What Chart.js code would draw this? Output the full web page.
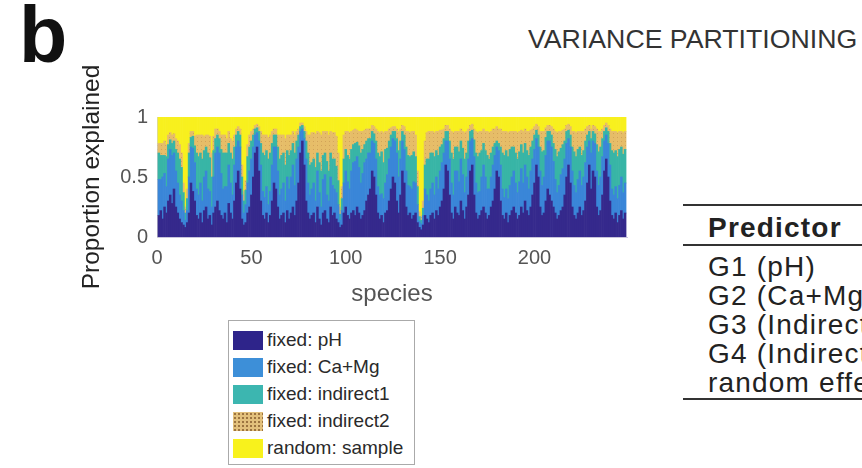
<!DOCTYPE html>
<html><head><meta charset="utf-8">
<script src="https://cdn.jsdelivr.net/npm/chart.js@4.4.1/dist/chart.umd.min.js"></script>
<style>
body{margin:0;width:862px;height:468px;overflow:hidden;background:#fff;font-family:"Liberation Sans",Arial,sans-serif;position:relative}
.abs{position:absolute;white-space:nowrap}
#panel{left:19px;top:-5px;font-size:79px;font-weight:bold;line-height:79px;color:#111}
#title{left:528px;top:26px;font-size:26.7px;line-height:26px;color:#333}
#wrap{position:absolute;left:0;top:0;width:660px;height:330px}
#legend{position:absolute;left:228px;top:320px;width:187px;height:145px;border:1px solid #aaa;box-sizing:border-box;background:#fff}
.item{position:absolute;left:4px;height:20px;display:flex;align-items:center;font-size:19px;color:#2a2a2a;white-space:nowrap}
.sw{width:30px;height:19px;margin-right:4px;flex:none}
.rule{position:absolute;left:683px;width:200px;height:2px;background:#333}
.cell{position:absolute;left:708px;font-size:28px;line-height:28px;letter-spacing:1.2px;color:#222;white-space:nowrap}
</style>
</head><body>
<div id="panel" class="abs">b</div>
<div id="title" class="abs">VARIANCE PARTITIONING</div>
<div id="wrap"><canvas id="c"></canvas></div>
<div id="legend"></div>
<div class="rule" style="top:204px"></div>
<div class="cell" style="top:214px;font-weight:bold">Predictor</div>
<div class="rule" style="top:244px"></div>
<div class="cell" style="top:253px">G1 (pH)</div>
<div class="cell" style="top:282px">G2 (Ca+Mg)</div>
<div class="cell" style="top:311px">G3 (Indirect 1)</div>
<div class="cell" style="top:340px">G4 (Indirect 2)</div>
<div class="cell" style="top:369px">random effects</div>
<div class="rule" style="top:398px"></div>
<script>
const seriesLabels = ['fixed: pH','fixed: Ca+Mg','fixed: indirect1','fixed: indirect2','random: sample'];
const xTicks = [0,50,100,150,200];
const yTicks = [0,0.5,1];

const pH = [
.18,.22,.15,.25,.20,.30,.35,.28,.40,.25, .20,.15,.12,.10,.08,.12,.20,.45,.38,.30,
.18,.15,.20,.12,.22,.25,.15,.18,.10,.20, .25,.30,.22,.18,.15,.20,.12,.28,.20,.15,
.30,.45,.55,.40,.15,.10,.12,.20,.25,.35, .50,.70,.75,.55,.30,.18,.15,.20,.12,.18,
.30,.45,.40,.25,.15,.18,.20,.12,.22,.15, .20,.25,.18,.30,.45,.70,.80,.60,.30,.20,
.15,.18,.20,.12,.25,.15,.10,.20,.22,.15, .12,.25,.18,.20,.15,.12,.08,.10,.20,.25,
.18,.15,.20,.22,.18,.25,.20,.15,.18,.22, .30,.35,.40,.55,.50,.35,.20,.15,.18,.12,
.20,.22,.30,.40,.50,.45,.30,.20,.35,.55, .45,.25,.18,.20,.15,.18,.20,.12,.08,.06,
.10,.18,.15,.12,.18,.20,.15,.22,.18,.25, .30,.40,.60,.55,.35,.20,.15,.25,.20,.18,
.30,.22,.15,.25,.35,.55,.60,.35,.20,.15, .18,.22,.25,.20,.15,.18,.25,.30,.40,.55,
.50,.30,.18,.15,.20,.12,.18,.22,.25,.20, .15,.18,.25,.20,.30,.22,.18,.25,.35,.45,
.60,.50,.25,.18,.20,.30,.40,.35,.30,.25, .20,.15,.18,.22,.25,.35,.50,.60,.45,.25,
.18,.15,.20,.25,.18,.22,.30,.45,.60,.40, .55,.50,.25,.18,.22,.35,.55,.65,.50,.30,
.18,.15,.20,.12,.18,.22,.15,.20];
const caMg = [
.30,.26,.35,.28,.22,.35,.38,.40,.30,.30, .25,.20,.18,.12,.06,.10,.30,.30,.36,.32,
.22,.20,.25,.18,.28,.30,.25,.20,.15,.30, .45,.45,.48,.35,.25,.22,.30,.32,.25,.20,
.30,.30,.25,.35,.20,.10,.15,.25,.30,.30, .25,.15,.12,.25,.30,.20,.18,.22,.15,.20,
.30,.30,.35,.30,.20,.22,.25,.18,.28,.25, .30,.35,.25,.35,.30,.18,.10,.22,.35,.25,
.20,.22,.25,.18,.30,.22,.15,.28,.30,.20, .18,.25,.25,.20,.22,.15,.06,.12,.25,.30,
.28,.25,.35,.40,.45,.42,.38,.30,.35,.40, .35,.35,.30,.25,.28,.30,.22,.20,.18,.20,
.25,.30,.35,.35,.32,.35,.40,.30,.30,.25, .28,.30,.25,.22,.25,.28,.25,.15,.05,.05,
.08,.22,.20,.18,.22,.25,.20,.28,.22,.30, .32,.30,.20,.25,.30,.25,.20,.30,.35,.28,
.35,.30,.22,.25,.30,.25,.22,.32,.25,.22, .20,.28,.35,.30,.25,.22,.25,.30,.28,.20,
.22,.30,.22,.18,.20,.20,.25,.28,.30,.25, .22,.28,.32,.25,.30,.28,.22,.30,.30,.28,
.22,.25,.30,.25,.30,.38,.40,.45,.45,.38, .28,.22,.25,.30,.32,.30,.28,.22,.30,.30,
.25,.22,.28,.30,.25,.28,.32,.30,.20,.30, .25,.28,.30,.25,.28,.32,.25,.20,.28,.30,
.22,.20,.22,.20,.25,.28,.22,.25];
const indirect1 = [
.22,.20,.18,.15,.25,.12,.08,.10,.10,.18, .25,.30,.28,.15,.06,.10,.20,.08,.10,.14,
.30,.32,.25,.35,.22,.20,.30,.28,.25,.22, .12,.10,.12,.20,.30,.28,.28,.18,.25,.30,
.15,.10,.08,.10,.15,.10,.12,.22,.20,.15, .10,.05,.04,.08,.18,.32,.35,.30,.38,.32,
.18,.10,.10,.20,.30,.28,.25,.30,.22,.28, .22,.18,.27,.15,.10,.04,.03,.06,.15,.25,
.25,.22,.20,.28,.15,.25,.30,.20,.18,.28, .25,.20,.22,.25,.22,.20,.05,.10,.20,.18,
.22,.25,.18,.15,.15,.12,.18,.25,.20,.15, .15,.12,.12,.08,.08,.15,.28,.32,.35,.30,
.28,.22,.15,.10,.06,.08,.12,.22,.15,.08, .12,.20,.25,.25,.28,.25,.22,.15,.04,.03,
.06,.20,.30,.35,.30,.25,.32,.22,.28,.20, .15,.12,.08,.08,.15,.25,.30,.20,.20,.25,
.15,.22,.28,.20,.15,.08,.07,.14,.25,.30, .32,.22,.18,.22,.28,.25,.20,.15,.10,.05,
.06,.15,.30,.35,.32,.35,.30,.25,.20,.25, .28,.25,.20,.25,.18,.22,.28,.20,.15,.12,
.07,.10,.20,.28,.22,.15,.08,.08,.10,.15, .25,.30,.28,.22,.20,.15,.10,.07,.10,.20,
.28,.30,.25,.20,.25,.22,.18,.10,.08,.12, .08,.08,.22,.28,.25,.15,.08,.06,.10,.18,
.32,.35,.30,.35,.30,.25,.32,.28];
const indirect2 = [
.08,.10,.10,.12,.10,.08,.06,.07,.06,.09, .10,.12,.12,.08,.05,.08,.08,.05,.04,.08,
.15,.18,.15,.20,.12,.10,.15,.18,.20,.12, .08,.05,.06,.12,.15,.15,.12,.10,.12,.15,
.10,.05,.04,.05,.10,.08,.08,.10,.10,.08, .05,.03,.03,.04,.10,.15,.17,.13,.18,.15,
.10,.05,.05,.10,.20,.17,.15,.22,.13,.17, .13,.10,.15,.08,.05,.03,.02,.04,.08,.15,
.25,.25,.22,.28,.18,.25,.30,.20,.18,.25, .30,.18,.22,.22,.25,.23,.06,.10,.20,.15,
.20,.22,.15,.12,.12,.10,.12,.18,.15,.12, .10,.08,.08,.05,.06,.10,.18,.20,.17,.25,
.15,.14,.10,.06,.04,.04,.08,.16,.10,.05, .07,.13,.20,.20,.20,.17,.18,.13,.04,.03,
.06,.20,.22,.23,.18,.18,.20,.16,.20,.14, .12,.08,.05,.05,.10,.18,.22,.13,.13,.17,
.10,.14,.22,.18,.10,.05,.05,.09,.18,.20, .18,.16,.12,.16,.20,.22,.18,.15,.12,.12,
.12,.15,.18,.20,.16,.20,.15,.13,.13,.18, .22,.17,.12,.18,.12,.16,.20,.14,.10,.07,
.05,.07,.13,.17,.16,.08,.05,.05,.07,.12, .15,.20,.17,.14,.12,.10,.05,.05,.07,.13,
.17,.20,.15,.13,.20,.16,.10,.07,.05,.08, .05,.06,.13,.17,.13,.08,.05,.04,.05,.12,
.16,.18,.16,.20,.15,.13,.18,.15];
const randomSample = [
.22,.22,.22,.20,.23,.15,.13,.15,.14,.18, .20,.23,.30,.55,.75,.60,.22,.12,.12,.16,
.15,.15,.15,.15,.16,.15,.15,.16,.30,.16, .10,.10,.12,.15,.15,.15,.18,.12,.18,.20,
.15,.10,.08,.10,.40,.62,.53,.23,.15,.12, .10,.07,.06,.08,.12,.15,.15,.15,.17,.15,
.12,.10,.10,.15,.15,.15,.15,.18,.15,.15, .15,.12,.15,.12,.10,.05,.05,.08,.12,.15,
.15,.13,.13,.14,.12,.13,.15,.12,.12,.12, .15,.12,.13,.13,.16,.30,.75,.58,.15,.12,
.12,.13,.12,.11,.10,.11,.12,.12,.12,.11, .10,.10,.10,.07,.08,.10,.12,.13,.12,.13,
.12,.12,.10,.09,.08,.08,.10,.12,.10,.07, .08,.12,.12,.13,.12,.12,.15,.45,.79,.83,
.70,.20,.13,.12,.12,.12,.13,.12,.12,.11, .11,.10,.07,.07,.10,.12,.13,.12,.12,.12,
.10,.12,.13,.12,.10,.07,.06,.10,.12,.13, .12,.12,.10,.12,.12,.13,.12,.10,.10,.08,
.10,.10,.12,.12,.12,.13,.12,.12,.12,.12, .13,.12,.11,.12,.10,.12,.12,.11,.10,.08,
.06,.08,.12,.12,.12,.09,.07,.07,.08,.10, .12,.13,.12,.12,.11,.10,.07,.06,.08,.12,
.12,.13,.12,.12,.12,.12,.10,.08,.07,.10, .07,.08,.10,.12,.12,.10,.07,.05,.07,.10,
.12,.12,.12,.13,.12,.12,.13,.12];

const species = pH.map((_, i) => i + 1);
const FONT = '"Liberation Sans", Arial, sans-serif';

const pc = document.createElement('canvas');
pc.width = 4; pc.height = 4;
const pg = pc.getContext('2d');
pg.fillStyle = '#e6bd68'; pg.fillRect(0, 0, 4, 4);
pg.fillStyle = '#d2a358'; pg.fillRect(1, 1, 1, 1);
const tanPattern = pg.createPattern(pc, 'repeat');

const colors = ['#35298c', '#3a86d8', '#38b5a6', tanPattern, '#f8f01e'];
const swatchCss = ['#2e248a', '#3d8fd8', '#3cb6b0',
  'radial-gradient(circle, #9c7440 0.8px, transparent 1.3px) 0 0/4px 4px, #e2c07c', '#f8f21c'];
const values = [pH, caMg, indirect1, indirect2, randomSample];

const toPoints = arr => arr.map((v, i) => ({ x: species[i], y: v }));

const chart = new Chart(document.getElementById('c'), {
  type: 'bar',
  data: {
    datasets: values.map((arr, k) => ({
      label: seriesLabels[k],
      data: toPoints(arr),
      backgroundColor: colors[k],
      borderWidth: 0,
      barPercentage: 1,
      categoryPercentage: 1
    }))
  },
  options: {
    responsive: true,
    maintainAspectRatio: false,
    animation: false,
    layout: { padding: { left: 74, top: 117, right: 33, bottom: 17 } },
    plugins: { legend: { display: false }, tooltip: { enabled: false } },
    scales: {
      x: {
        type: 'linear', stacked: true, min: 0, max: 249, offset: false,
        grid: { display: false, drawTicks: false },
        border: { display: true, color: '#c8c4dc', width: 1 },
        afterBuildTicks: s => { s.ticks = xTicks.map(v => ({ value: v })); },
        ticks: { padding: 9, color: '#555', font: { size: 20, family: FONT }, maxRotation: 0, autoSkip: false,
                 callback: v => String(v) },
        title: { display: true, text: 'species', color: '#555', font: { size: 24, family: FONT } },
        afterFit: s => { s.height = 76; }
      },
      y: {
        stacked: true, min: 0, max: 1,
        grid: { display: false, drawTicks: false },
        border: { display: true, color: '#d0d0d0', width: 1 },
        afterBuildTicks: s => { s.ticks = yTicks.map(v => ({ value: v })); },
        ticks: { padding: 9, color: '#555', font: { size: 20, family: FONT }, callback: v => String(v) },
        title: { display: true, text: 'Proportion explained', color: '#222', font: { size: 24.5, family: FONT } },
        afterFit: s => { s.width = 83; }
      }
    }
  }
});

const leg = document.getElementById('legend');
const rowTops = [9, 36, 63, 90, 117];
chart.data.datasets.forEach((ds, k) => {
  const it = document.createElement('div');
  it.className = 'item';
  it.style.top = rowTops[k] + 'px';
  const sw = document.createElement('span');
  sw.className = 'sw';
  sw.style.background = swatchCss[k];
  const tx = document.createElement('span');
  tx.textContent = ds.label;
  it.appendChild(sw); it.appendChild(tx);
  leg.appendChild(it);
});
</script>
</body></html>
